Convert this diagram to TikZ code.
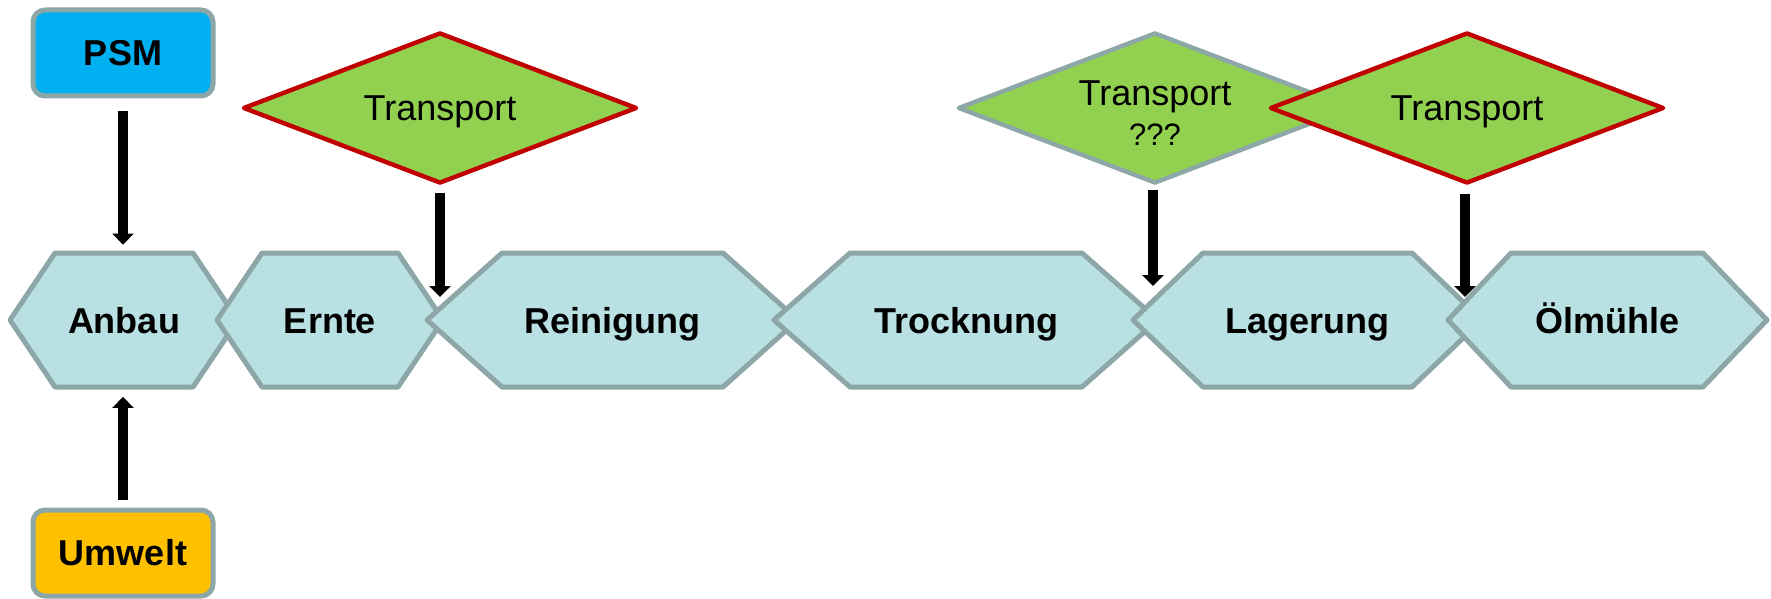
\documentclass[tikz,border=0pt]{standalone}
\usepackage{fontspec}
\setmainfont{Liberation Sans}
\usepackage{xcolor}
\usetikzlibrary{arrows.meta,shapes.geometric}
\definecolor{scLine}{RGB}{141,166,168}
\definecolor{scHex}{RGB}{185,224,227}
\definecolor{scPsm}{RGB}{0,176,240}
\definecolor{scEnv}{RGB}{255,192,0}
\definecolor{scGreen}{RGB}{146,208,80}
\definecolor{scRed}{RGB}{192,0,0}

\begin{document}
\begin{tikzpicture}[x=0.5pt, y=-0.5pt, font=\fontsize{18}{20}\selectfont,
  src/.style={draw=scLine, line width=2.5pt, rounded corners=6pt, minimum width=90pt,
    minimum height=43pt, inner sep=0pt, font=\fontsize{18}{20}\selectfont\bfseries},
  stage/.style={minimum height=67pt, inner sep=0pt, text height=13pt, text depth=0pt,
    font=\fontsize{18}{20}\selectfont\bfseries},
  hexa/.style={fill=scHex, draw=scLine, line width=2.5pt, line join=round},
  trans/.style={diamond, aspect=2.6, fill=scGreen, draw=scRed, line width=2.2pt, line join=round,
    minimum width=197pt, minimum height=75.5pt, inner sep=0pt, align=center, text depth=0pt},
  flow/.style={line width=4.65pt, -{Triangle[length=5.5pt,width=10.5pt]}}]
\useasboundingbox (0,0) rectangle (1771,599);

% stages: name / left / top left / top right / right / text
\foreach \n/\l/\a/\b/\r/\t in {
  anbau/10/55/193/238/Anbau,
  ernte/217/262/398/443/Ernte,
  rein/427/502/723/798/Reinigung,
  trock/774/850/1082/1158/Trocknung,
  lager/1133/1203/1412/1482/Lagerung,
  oel/1448/1511/1703/1767/Ölmühle}
{
  \draw[hexa] (\l,320) -- (\a,253) -- (\b,253) -- (\r,320) -- (\b,387) -- (\a,387) -- cycle;
  \node[stage] (\n) at ({(\l+\r)/2},320) {\t};
}

% inputs
\node[src, fill=scPsm] (psm) at (123,53) {PSM};
\node[src, fill=scEnv] (umwelt) at (123,553) {Umwelt};

% transports
\node[trans] (tr1) at (440,108) {Transport};
\node[trans, draw=scLine, text height=37.5pt] (tr2) at (1155,108)
  {Transport\\{\fontsize{15.5}{20}\selectfont ???}};
\node[trans] (tr3) at (1467,108) {Transport};

\coordinate (j1) at (440,297);
\coordinate (j2) at (1153,286);
\coordinate (j3) at (1465,297);

% arrows
\draw[flow, shorten <=6.5pt, shorten >=4pt] (psm.south) -- (psm.south |- anbau.north);
\draw[flow, shorten <=3.75pt, shorten >=4.75pt] (umwelt.north) -- (umwelt.north |- anbau.south);
\draw[flow, shorten <=3.5pt] (tr1.south) -- (j1);
\draw[flow, shorten <=2pt] (tr2.south -| j2) -- (j2);
\draw[flow, shorten <=4pt] (tr3.south -| j3) -- (j3);
\end{tikzpicture}
\end{document}
